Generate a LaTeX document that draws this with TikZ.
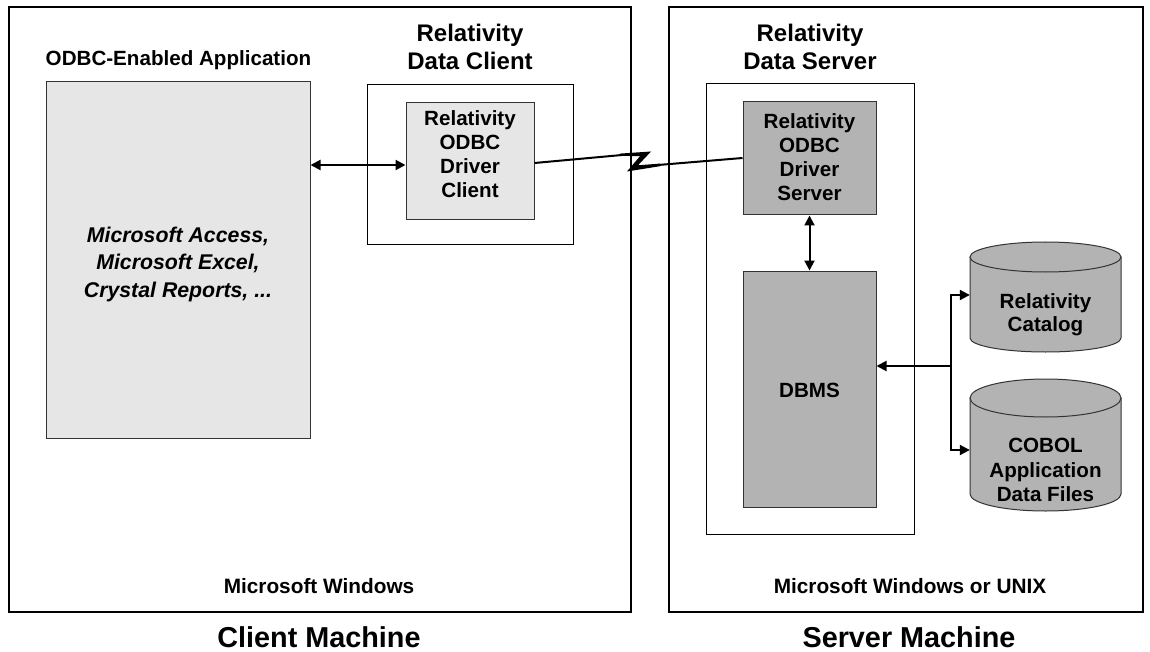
\documentclass[tikz,border=0pt]{standalone}
\usepackage{fontspec}
\setmainfont{Liberation Sans}
\usetikzlibrary{arrows.meta}
\definecolor{lightfill}{HTML}{E6E6E6}
\definecolor{darkfill}{HTML}{B3B3B3}
\definecolor{edgegray}{HTML}{333333}
\newcommand{\fBoxTxt}{\fontsize{20.6}{24}\selectfont\bfseries}
\newcommand{\fHead}{\fontsize{24}{28}\selectfont\bfseries}
\newcommand{\fMach}{\fontsize{28.8}{32}\selectfont\bfseries}
\newcommand{\fOS}{\fontsize{20.8}{24}\selectfont\bfseries}
\begin{document}
\begin{tikzpicture}[x=1pt,y=-1pt,
  machine/.style={draw=black, line width=1.2pt, inner sep=0pt, fill=white},
  frame/.style={draw=black, line width=1pt, inner sep=0pt, fill=white},
  lightbox/.style={draw=edgegray, line width=1pt, fill=lightfill, inner sep=0pt},
  darkbox/.style={draw=edgegray, line width=1pt, fill=darkfill, inner sep=0pt},
  txt/.style={align=center, inner sep=0pt},
  dbl/.style={line width=2pt, {Triangle[length=10pt,width=10pt]}-{Triangle[length=10pt,width=10pt]}},
  arr/.style={line width=2pt, -{Triangle[length=10pt,width=10pt]}, line join=miter},
  cylfill/.style={fill=darkfill, draw=edgegray, line width=1pt}]
\useasboundingbox (0,0) rectangle (1150,652);

% machines
\node[machine, minimum width=622pt, minimum height=605pt] (client) at (320,309.5) {};
\node[machine, minimum width=474pt, minimum height=605pt] (server) at (906,309.5) {};

% client side
\node[txt, anchor=base, font=\fBoxTxt] (apptitle) at (178.5,66) {ODBC-Enabled Application};
\node[lightbox, minimum width=264pt, minimum height=356pt] (app) at (178,260) {};
\node[txt, font=\fontsize{21.3}{27.5}\selectfont\bfseries\itshape] (apptext) at (178,264) {Microsoft Access,\\ Microsoft Excel,\\ Crystal Reports, ...};

\node[txt, font=\fHead] (dchead) at (470,47) {Relativity\\ Data Client};
\node[frame, minimum width=206pt, minimum height=160pt] (dcbox) at (470,165) {};
\node[lightbox, minimum width=128pt, minimum height=117pt] (dcl) at (470,161.5) {};
\node[txt, font=\fBoxTxt] (dcltext) at (470,154.5) {Relativity\\ ODBC\\ Driver\\ Client};

\node[txt, anchor=base, font=\fOS] (winclient) at (319,593) {Microsoft Windows};
\node[txt, anchor=base, font=\fMach] (clientlabel) at (319,647.5) {Client Machine};

% server side
\node[txt, font=\fHead] (dshead) at (810,47) {Relativity\\ Data Server};
\node[frame, minimum width=208pt, minimum height=450pt] (dsbox) at (810,309) {};
\node[darkbox, minimum width=133pt, minimum height=113pt] (dsrv) at (809.5,158.5) {};
\node[txt, font=\fBoxTxt] (dsrvtext) at (809.5,157.5) {Relativity\\ ODBC\\ Driver\\ Server};
\node[darkbox, minimum width=133pt, minimum height=236pt] (dbms) at (809.5,389) {};
\node[txt, font=\fBoxTxt] (dbmstext) at (809.5,390) {DBMS};

% cylinders
\filldraw[cylfill] (970,257) -- (970,338) arc[start angle=180, end angle=360, x radius=75.5pt, y radius=14pt] -- (1121,257) -- cycle;
\filldraw[cylfill] (1045.5,257) ellipse [x radius=75.5pt, y radius=15pt];
\node[inner sep=0pt, minimum width=151pt, minimum height=110pt] (cat) at (1045.5,297) {};
\node[txt, font=\fontsize{20.6}{23}\selectfont\bfseries] (cattext) at (1045.5,315) {Relativity\\ Catalog};

\filldraw[cylfill] (970,398) -- (970,494) arc[start angle=180, end angle=360, x radius=75.5pt, y radius=17pt] -- (1121,398) -- cycle;
\filldraw[cylfill] (1045.5,398) ellipse [x radius=75.5pt, y radius=19pt];
\node[inner sep=0pt, minimum width=151pt, minimum height=131pt] (cob) at (1045.5,445.5) {};
\node[txt, font=\fontsize{20.6}{24.5}\selectfont\bfseries] (cobtext) at (1045.5,470) {COBOL\\ Application\\ Data Files};

\node[txt, anchor=base, font=\fOS] (winserver) at (910,593) {Microsoft Windows or UNIX};
\node[txt, anchor=base, font=\fMach] (serverlabel) at (909,647.5) {Server Machine};

% connectors
\draw[dbl] (app.east |- 0,165) -- (dcl.west |- 0,165);
\draw[dbl] (dsrv.south) -- (dbms.north);
\coordinate (junc) at (951,366);
\draw[arr] (junc) -- (dbms.east |- junc);
\draw[arr] (junc) |- (cat.west |- 0,295);
\draw[arr] (junc) |- (cob.west |- 0,450);

% lightning link
\coordinate (boltA) at (622,155);
\coordinate (boltB) at (658,165);
\draw[line width=2pt] (dcl.east |- 0,163) -- (boltA);
\fill (620,153.6) -- (651,151.5) -- (638,165.3) -- (660,163.6) -- (660,166.2) -- (627,171.5) -- (640,156.2) -- (620,155.8) -- cycle;
\draw[line width=2pt] (boltB) -- (dsrv.west |- 0,158);
\end{tikzpicture}
\end{document}
